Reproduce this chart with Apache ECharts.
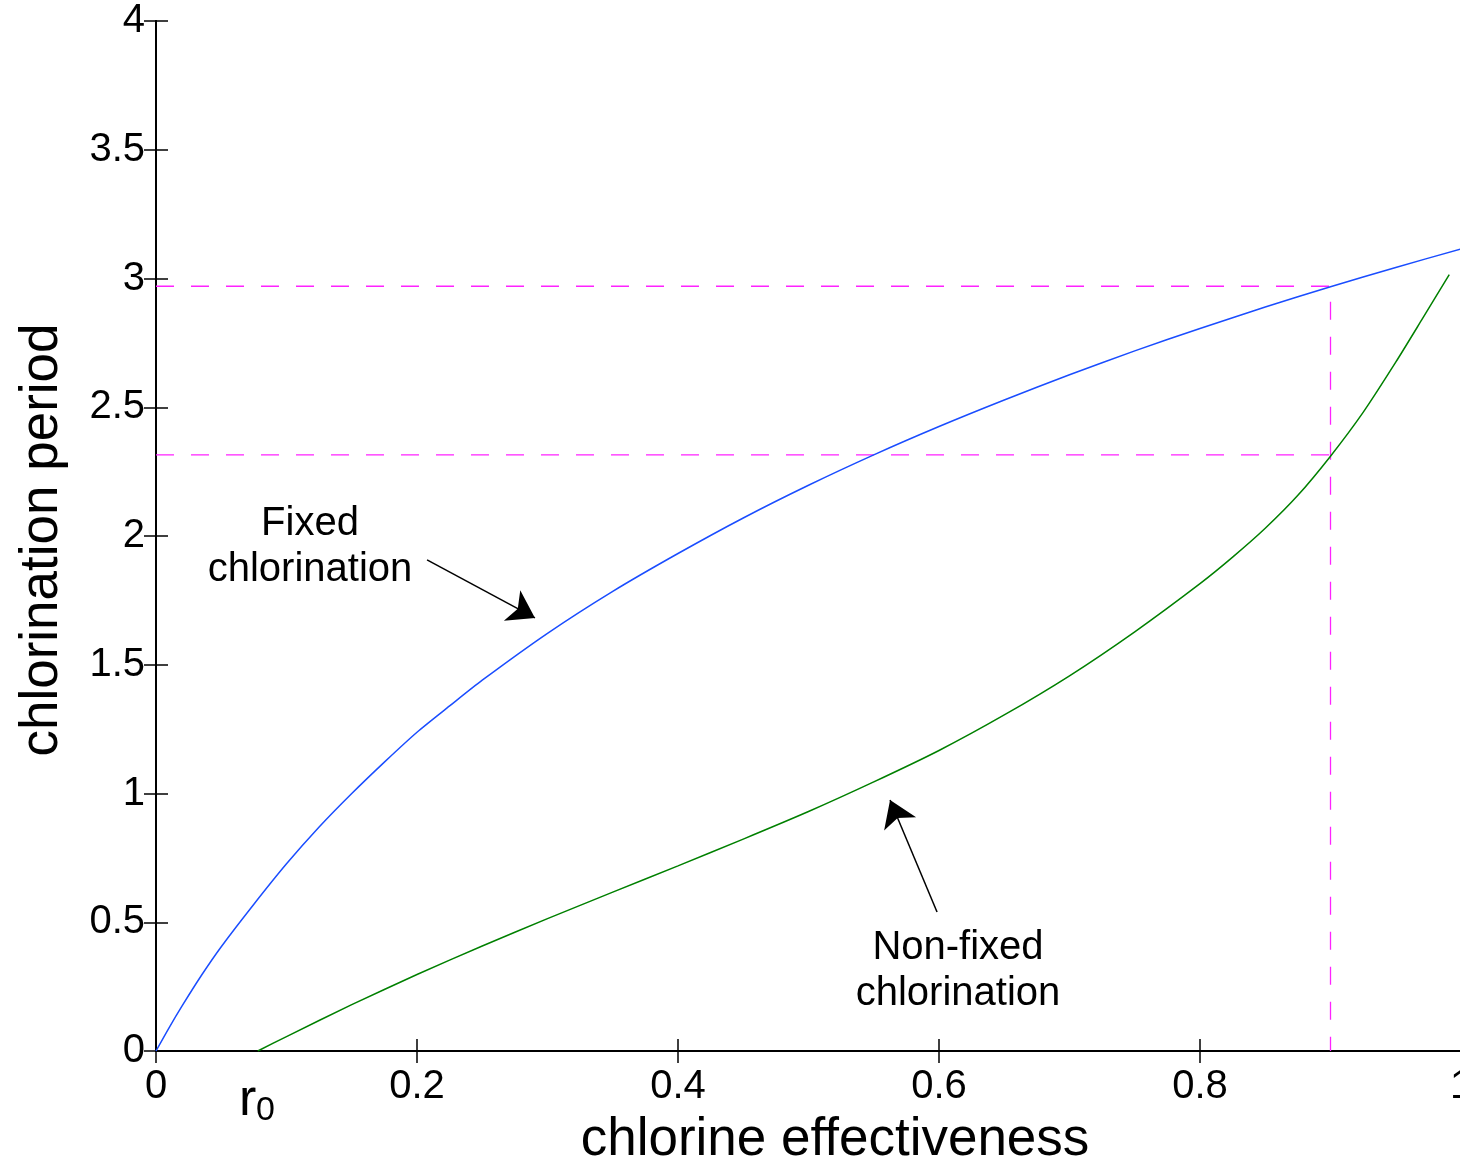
<!DOCTYPE html>
<html>
<head>
<meta charset="utf-8">
<script src="https://cdn.jsdelivr.net/npm/echarts@6/dist/echarts.min.js"></script>
<style>
  html, body { margin: 0; padding: 0; background: #fff; }
  #main { width: 1460px; height: 1165px; }
</style>
</head>
<body>
<div id="main"></div>
<script>
// fixed chlorination (blue)
var fixedX = [0, 0.01, 0.02, 0.035, 0.05, 0.075, 0.1, 0.125, 0.15, 0.175, 0.2, 0.225, 0.25, 0.3, 0.35, 0.4, 0.45, 0.5, 0.55, 0.6, 0.65, 0.7, 0.75, 0.8, 0.85, 0.9, 0.95, 1.0];
var fixedY = [0, 0.09, 0.175, 0.295, 0.405, 0.57, 0.727, 0.87, 1.0, 1.122, 1.238, 1.34, 1.44, 1.622, 1.785, 1.932, 2.07, 2.197, 2.315, 2.425, 2.528, 2.626, 2.719, 2.806, 2.889, 2.968, 3.043, 3.115];
// non-fixed chlorination (green)
var nonFixedX = [0.078, 0.1, 0.15, 0.2, 0.25, 0.3, 0.35, 0.4, 0.45, 0.5, 0.55, 0.6, 0.65, 0.7, 0.75, 0.8, 0.825, 0.85, 0.875, 0.9, 0.925, 0.95, 0.97, 0.991];
var nonFixedY = [0, 0.056, 0.18, 0.297, 0.408, 0.514, 0.617, 0.719, 0.823, 0.93, 1.045, 1.167, 1.305, 1.457, 1.628, 1.815, 1.918, 2.03, 2.158, 2.31, 2.48, 2.675, 2.84, 3.015];
// reference lines
var refX = 0.9;
var refFixedY = 2.97;
var refNonFixedY = 2.315;

var font = 'Liberation Sans, Arial, Helvetica, sans-serif';

function pairs(xs, ys) {
    var out = [];
    for (var i = 0; i < xs.length; i++) out.push([xs[i], ys[i]]);
    return out;
}

var myChart = echarts.init(document.getElementById('main'));

var axisCommon = {
    type: 'value',
    axisLine: { show: true, lineStyle: { color: '#000', width: 2 } },
    axisTick: { show: true, inside: true, length: 12, lineStyle: { color: '#000', width: 1.5 } },
    splitLine: { show: false }
};

option = {
    backgroundColor: '#fff',
    animation: false,
    grid: { left: 156, right: -1, top: 21, bottom: 114, containLabel: false, outerBoundsMode: 'none' },
    xAxis: [
        Object.assign({}, axisCommon, {
            position: 'bottom', min: 0, max: 1, interval: 0.2,
            axisLabel: { color: '#000', fontSize: 40, fontFamily: font, margin: 16 }
        }),
        Object.assign({}, axisCommon, {
            position: 'top', min: 0, max: 1, interval: 0.2,
            axisLabel: { show: false }
        })
    ],
    yAxis: [
        Object.assign({}, axisCommon, {
            position: 'left', min: 0, max: 4, interval: 0.5,
            axisLabel: { color: '#000', fontSize: 40, fontFamily: font, margin: 11 }
        }),
        Object.assign({}, axisCommon, {
            position: 'right', min: 0, max: 4, interval: 0.5,
            axisLabel: { show: false }
        })
    ],
    series: [
        {
            name: 'ref fixed',
            type: 'line',
            showSymbol: false,
            silent: true,
            lineStyle: { color: '#ff22ff', width: 1.3, type: [18, 17] },
            data: [[0, refFixedY], [refX, refFixedY], [refX, 0]]
        },
        {
            name: 'ref non-fixed',
            type: 'line',
            showSymbol: false,
            silent: true,
            lineStyle: { color: '#ff22ff', width: 1.3, type: [18, 17] },
            data: [[0, refNonFixedY], [refX, refNonFixedY]]
        },
        {
            name: 'Fixed chlorination',
            type: 'line',
            showSymbol: false,
            smooth: 0.25,
            lineStyle: { color: '#1a4dff', width: 1.5 },
            data: pairs(fixedX, fixedY),
            markLine: {
                silent: true,
                symbol: ['none', 'arrow'],
                symbolSize: 26,
                label: { show: false },
                lineStyle: { color: '#000', width: 1.5, type: 'solid' },
                data: [[{ coord: [0.2077, 1.907] }, { coord: [0.2904, 1.682] }]]
            }
        },
        {
            name: 'Non-fixed chlorination',
            type: 'line',
            showSymbol: false,
            smooth: 0.25,
            lineStyle: { color: '#008000', width: 1.5 },
            data: pairs(nonFixedX, nonFixedY),
            markLine: {
                silent: true,
                symbol: ['none', 'arrow'],
                symbolSize: 26,
                label: { show: false },
                lineStyle: { color: '#000', width: 1.5, type: 'solid' },
                data: [[{ coord: [0.5985, 0.54] }, { coord: [0.5625, 0.975] }]]
            }
        }
    ],
    graphic: [
        {
            type: 'text', x: 835, y: 1140,
            style: { text: 'chlorine effectiveness', font: '53px ' + font, fill: '#000', textAlign: 'center', textVerticalAlign: 'middle' }
        },
        {
            type: 'text', x: 42, y: 540, rotation: Math.PI / 2,
            style: { text: 'chlorination period', font: '53px ' + font, fill: '#000', textAlign: 'center', textVerticalAlign: 'middle' }
        },
        {
            type: 'text', x: 239, y: 1101,
            style: { text: 'r', font: '52px ' + font, fill: '#000', textAlign: 'left', textVerticalAlign: 'middle' }
        },
        {
            type: 'text', x: 256, y: 1111,
            style: { text: '0', font: '34px ' + font, fill: '#000', textAlign: 'left', textVerticalAlign: 'middle' }
        },
        {
            type: 'text', x: 310, y: 547,
            style: { text: 'Fixed\nchlorination', font: '40px ' + font, lineHeight: 46, fill: '#000', textAlign: 'center', textVerticalAlign: 'middle' }
        },
        {
            type: 'text', x: 958, y: 971,
            style: { text: 'Non-fixed\nchlorination', font: '40px ' + font, lineHeight: 46, fill: '#000', textAlign: 'center', textVerticalAlign: 'middle' }
        }
    ]
};

myChart.setOption(option);
</script>
</body>
</html>
